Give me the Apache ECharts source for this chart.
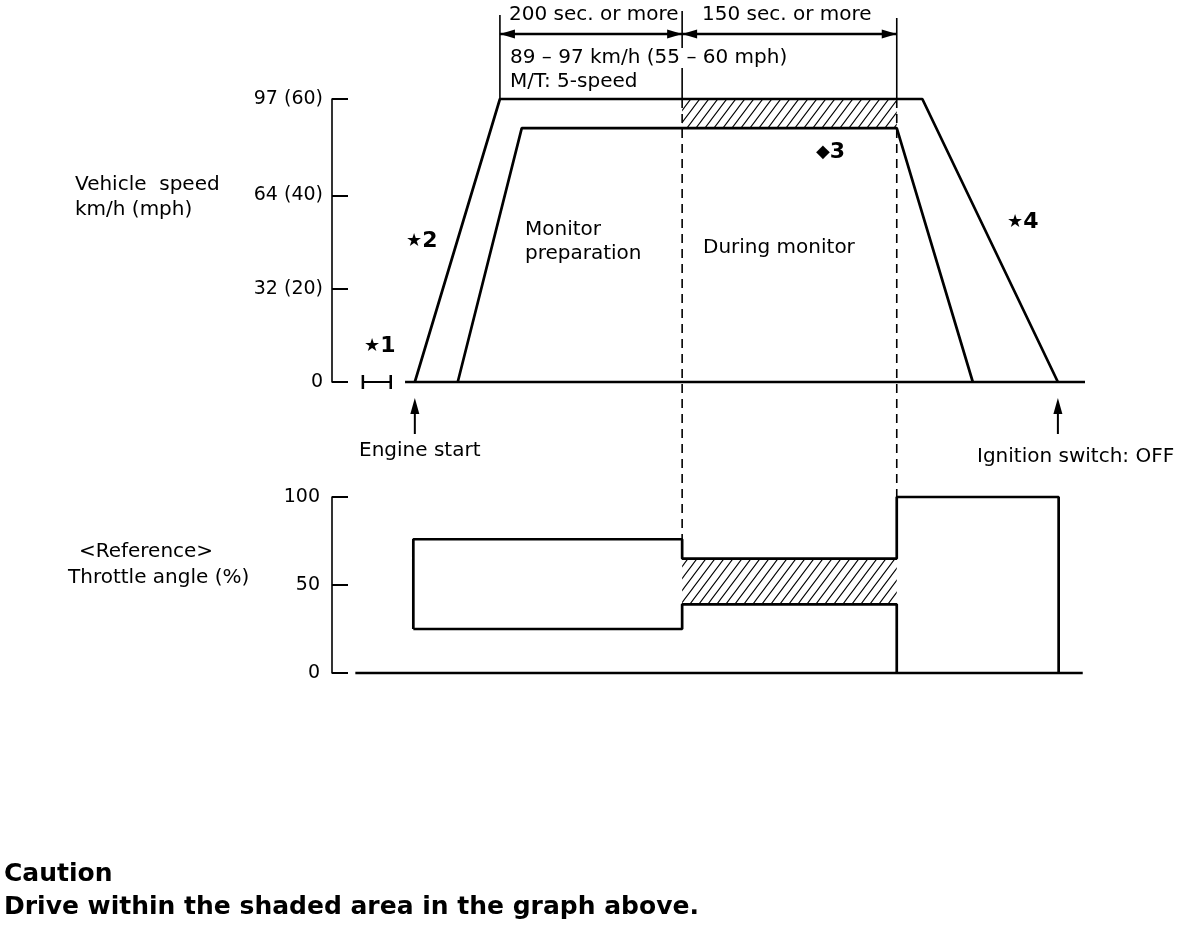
<!DOCTYPE html>
<html>
<head>
<meta charset="utf-8">
<script src="https://cdn.jsdelivr.net/npm/echarts@6/dist/echarts.min.js"></script>
<style>
  html, body { margin: 0; background: #fff; }
  #chart { width: 1200px; height: 926px; }
</style>
</head>
<body>
<div id="chart"></div>
<script>
// ─── data ──────────────────────────────────────────────
// time runs on an arbitrary 0..100 scale (the original is not drawn to scale)
const speedTicks = [0, 32, 64, 97];
const speedTickLabels = ['0', '32 (20)', '64 (40)', '97 (60)'];
const throttleTicks = [0, 50, 100];

// vehicle speed envelope: [time, km/h]
const speedUpper = [[11.0, 0], [22.3, 97], [78.4, 97], [96.4, 0]];
const speedLower = [[16.7, 0], [25.2, 87], [75.0, 87], [85.1, 0]];
const speedBand = [[46.5, 75.0, 87, 97]];          // shaded: t0, t1, low, high
const speedBaseline = [[9.7, 0], [100, 0]];
const idleBracket = [[4.1, 0], [7.8, 0]];          // ★1

// throttle angle envelope: [time, %]
const throttleUpper = [[10.8, 25], [10.8, 76], [46.5, 76], [46.5, 65], [75.0, 65], [75.0, 100], [96.5, 100], [96.5, 0]];
const throttleLower = [[10.8, 25], [46.5, 25], [46.5, 39], [75.0, 39], [75.0, 0]];
const throttleBand = [[46.5, 75.0, 39, 65]];
const throttleBaseline = [[3.1, 0], [99.7, 0]];

// phase boundaries
const cruiseStart = 22.3, monitorStart = 46.5, monitorEnd = 75.0;
const engineStart = 11.0, ignitionOff = 96.4;

// ─── helpers ───────────────────────────────────────────
const FONT = '"DejaVu Sans", sans-serif';

function hatchPattern() {
  const w = 9, h = 12;
  const c = document.createElement('canvas');
  c.width = w; c.height = h;
  const g = c.getContext('2d');
  g.strokeStyle = '#000';
  g.lineWidth = 1.1;
  g.beginPath();
  g.moveTo(-w, 2 * h); g.lineTo(2 * w, -h);
  g.moveTo(-2 * w, 2 * h); g.lineTo(w, -h);
  g.moveTo(0, 2 * h); g.lineTo(3 * w, -h);
  g.stroke();
  return { image: c, repeat: 'repeat' };
}
const HATCH = hatchPattern();

function renderBand(params, api) {
  const a = api.coord([api.value(0), api.value(3)]);
  const b = api.coord([api.value(1), api.value(2)]);
  return {
    type: 'rect',
    shape: { x: a[0], y: a[1], width: b[0] - a[0], height: b[1] - a[1] },
    style: { fill: HATCH }
  };
}

function outline(data, gridIndex, width) {
  return {
    type: 'line', data, xAxisIndex: gridIndex, yAxisIndex: gridIndex,
    symbol: 'none', silent: true, clip: false, z: 3,
    lineStyle: { color: '#000', width: width || 2.7 }
  };
}

function band(data, gridIndex) {
  return {
    type: 'custom', data, xAxisIndex: gridIndex, yAxisIndex: gridIndex,
    renderItem: renderBand, silent: true, z: 2,
    encode: { x: [0, 1], y: [2, 3] }
  };
}

function valueY(min, max, ticks, fmt, margin) {
  return {
    type: 'value', min, max,
    axisLine: { show: true, lineStyle: { color: '#000', width: 1.6 } },
    axisTick: { show: true, inside: true, length: 16, customValues: ticks, lineStyle: { color: '#000', width: 2 } },
    axisLabel: { customValues: ticks, formatter: fmt, color: '#000', fontSize: 19, fontFamily: FONT, margin },
    splitLine: { show: false }
  };
}

// ─── chart ─────────────────────────────────────────────
const chart = echarts.init(document.getElementById('chart'), null, { renderer: 'canvas' });

chart.setOption({
  animation: false,
  backgroundColor: '#fff',
  grid: [
    { left: 332, top: 99, width: 753, height: 283 },
    { left: 332, top: 497, width: 753, height: 176 }
  ],
  xAxis: [
    { type: 'value', gridIndex: 0, min: 0, max: 100, show: false },
    { type: 'value', gridIndex: 1, min: 0, max: 100, show: false }
  ],
  yAxis: [
    Object.assign(valueY(0, 97, speedTicks, v => speedTickLabels[speedTicks.indexOf(v)], 9), { gridIndex: 0 }),
    Object.assign(valueY(0, 100, throttleTicks, v => String(v), 12), { gridIndex: 1 })
  ],
  series: [
    band(speedBand, 0),
    outline(speedUpper, 0),
    outline(speedLower, 0),
    outline(speedBaseline, 0),
    Object.assign(outline(idleBracket, 0, 2), {
      symbol: 'rect', symbolSize: [2.5, 14], showSymbol: true, itemStyle: { color: '#000' }
    }),
    band(throttleBand, 1),
    outline(throttleUpper, 1),
    outline(throttleLower, 1),
    outline(throttleBaseline, 1)
  ]
});

// ─── annotations (positions taken from the axes) ───────
const px = (g, t, v) => chart.convertToPixel({ gridIndex: g }, [t, v]);

const graphic = [];
const line = (x1, y1, x2, y2, extra) => graphic.push(Object.assign({
  type: 'line', shape: { x1, y1, x2, y2 },
  style: { stroke: '#000', lineWidth: 1.6 }, silent: true, z: 10
}, extra || {}));
const tri = (points) => graphic.push({ type: 'polygon', shape: { points }, style: { fill: '#000' }, silent: true, z: 10 });
const text = (x, y, str, opts) => graphic.push({
  type: 'text', x, y, silent: true, z: 20,
  style: Object.assign({ text: str, font: '20px ' + FONT, fill: '#000', verticalAlign: 'middle' }, opts || {})
});

// dashed guides between the two graphs
const dash = { style: { stroke: '#000', lineWidth: 1.6, lineDash: [9, 6] } };
let a = px(0, monitorStart, 97), b = px(1, monitorStart, 76);
line(a[0], a[1], b[0], b[1], dash);
a = px(0, monitorEnd, 97); b = px(1, monitorEnd, 100);
line(a[0], a[1], b[0], b[1], dash);

// extension lines and duration arrows on top
const dimY = 34;
const xs = [cruiseStart, monitorStart, monitorEnd].map(t => px(0, t, 97));
line(xs[0][0], 15, xs[0][0], xs[0][1]);
line(xs[1][0], 11, xs[1][0], xs[1][1]);
line(xs[2][0], 18, xs[2][0], xs[2][1]);
for (let i = 0; i < 2; i++) {
  const x1 = xs[i][0], x2 = xs[i + 1][0];
  line(x1, dimY, x2, dimY, { style: { stroke: '#000', lineWidth: 2.4 } });
  tri([[x1, dimY], [x1 + 15, dimY - 4.5], [x1 + 15, dimY + 4.5]]);
  tri([[x2, dimY], [x2 - 15, dimY - 4.5], [x2 - 15, dimY + 4.5]]);
}

// event arrows below the speed graph
[engineStart, ignitionOff].forEach(t => {
  const p = px(0, t, 0);
  const top = p[1] + 16;
  line(p[0], top + 12, p[0], top + 36, { style: { stroke: '#000', lineWidth: 2 } });
  tri([[p[0], top], [p[0] - 4.5, top + 16], [p[0] + 4.5, top + 16]]);
});

const star = { s: { font: '18px ' + FONT, fill: '#000' }, b: { font: 'bold 22px ' + FONT, fill: '#000' } };
const onWhite = { backgroundColor: '#fff', padding: [0, 2] };
text(507, 15, '200 sec. or more', onWhite);
text(700, 15, '150 sec. or more', onWhite);
text(508, 58, '89 – 97 km/h (55 – 60 mph)', onWhite);
text(508, 82, 'M/T: 5-speed', onWhite);
text(75, 185, 'Vehicle  speed');
text(75, 210, 'km/h (mph)');
text(525, 230, 'Monitor');
text(525, 254, 'preparation');
text(703, 248, 'During monitor');
text(364, 346, '{s|★}{b|1}', { rich: star });
text(406, 241, '{s|★}{b|2}', { rich: star });
text(816, 152, '{s|◆}{b|3}', { rich: star });
text(1007, 222, '{s|★}{b|4}', { rich: star });
text(359, 451, 'Engine start');
text(977, 457, 'Ignition switch: OFF');
text(146, 552, '<Reference>', { align: 'center' });
text(68, 578, 'Throttle angle (%)');
text(4, 874, 'Caution', { font: 'bold 25px ' + FONT });
text(4, 907, 'Drive within the shaded area in the graph above.', { font: 'bold 25px ' + FONT });

chart.setOption({ graphic });
</script>
</body>
</html>
